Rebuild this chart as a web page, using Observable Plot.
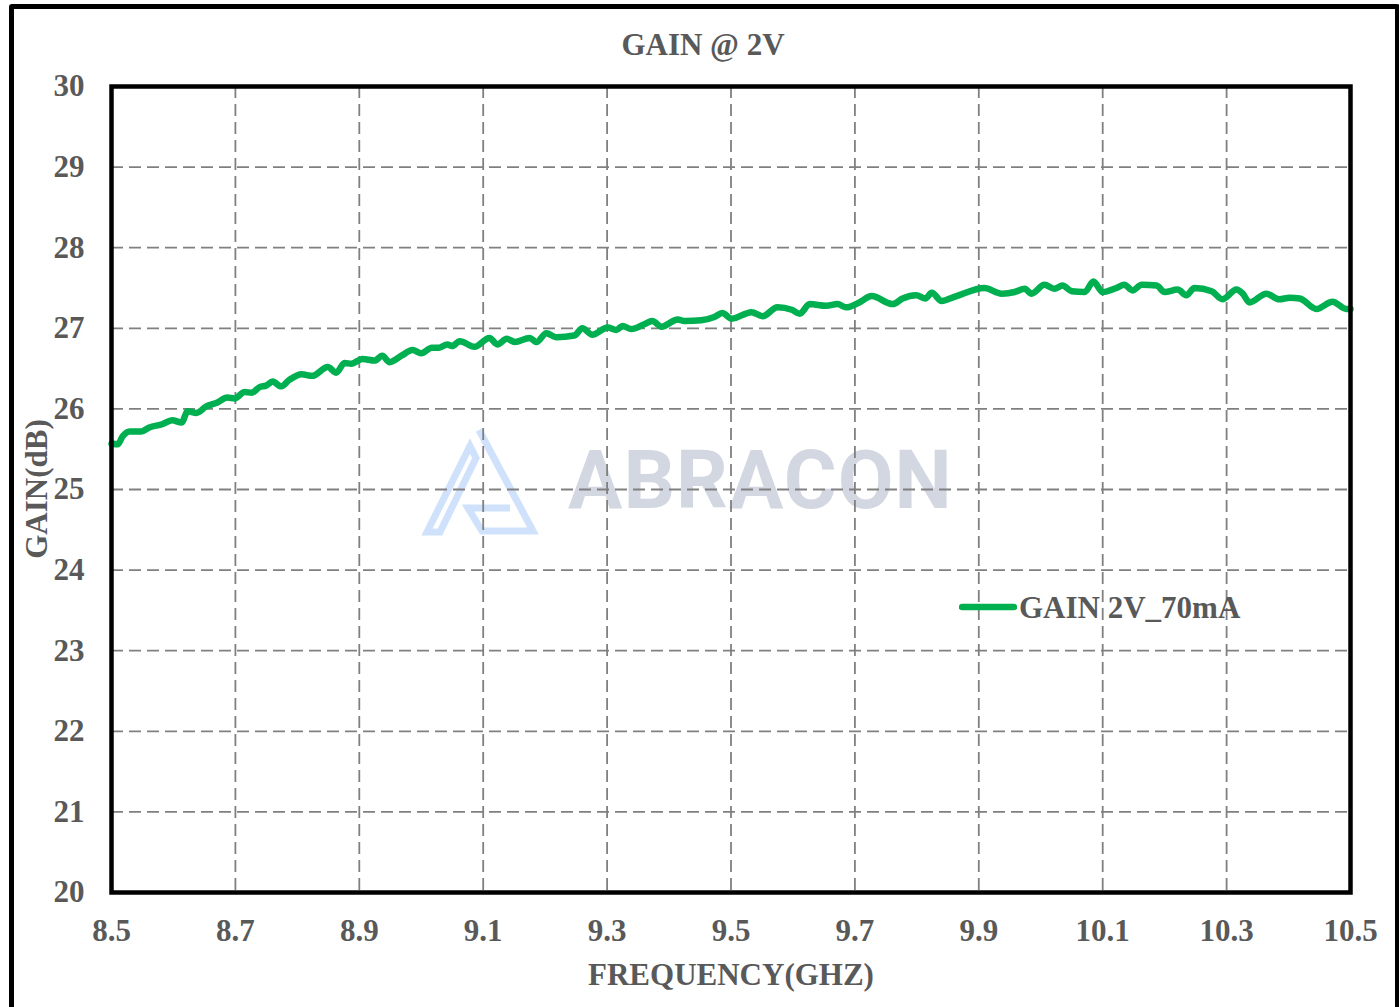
<!DOCTYPE html>
<html>
<head>
<meta charset="utf-8">
<script src="https://cdn.jsdelivr.net/npm/d3@7"></script>
<script src="https://cdn.jsdelivr.net/npm/@observablehq/plot@0.6"></script>
<style>
  html, body { margin: 0; padding: 0; background: #fff; }
  #wrap { position: relative; width: 1399px; height: 1007px; overflow: hidden; background: #fff; }
  .txt { position: absolute; font-family: "Liberation Serif", "Times New Roman", serif; font-weight: bold; font-size: 31px; color: #595959; white-space: nowrap; line-height: 1; }
  #outer { position: absolute; left: 9px; top: 4px; width: 1381px; height: 998px; border: 5px solid #000; border-radius: 3px; }
  #wm { position: absolute; left: 0; top: 0; }
  #chart { position: absolute; left: 0; top: 0; }
</style>
</head>
<body>
<div id="wrap">
  <svg id="wm" width="1399" height="1007">
    <g fill="none" stroke="#cfe1fb" stroke-width="7" stroke-linejoin="miter">
      <polygon points="427,532 470,446 476,458 440,532"></polygon>
      <polyline points="479,430 533,531 482,531 468,508 510,508"></polyline>
    </g>
    <text x="568" y="508" font-family="Roboto, 'DejaVu Sans', sans-serif" font-weight="bold" font-size="81" fill="#d2d7e1" letter-spacing="1">ABRACON</text>
  </svg>
  <div id="chart"></div>
  <div id="outer"></div>
  <div class="txt" id="title" style="left:0; width:1406px; text-align:center; top:29px;">GAIN @ 2V</div>
  <div class="txt" id="xlabel" style="left:0; width:1462px; text-align:center; top:959px;">FREQUENCY(GHZ)</div>
  <div class="txt" id="ylabel" style="left:36px; top:489px; transform: translate(-50%,-50%) rotate(-90deg);">GAIN(dB)</div>
  <div id="legend" style="position:absolute; left:959px; top:590px; height:34px; display:flex; align-items:center;">
    <svg width="58" height="34"><line x1="3" y1="17" x2="55" y2="17" stroke="#00b050" stroke-width="6.5" stroke-linecap="round"></line></svg>
    <span class="txt" style="position:static; margin-left:2px;">GAIN 2V_70mA</span>
  </div>
</div>
<script>
const freq = [8.500,8.510,8.518,8.529,8.548,8.561,8.582,8.598,8.613,8.623,8.637,8.653,8.671,8.687,8.699,8.715,8.726,8.739,8.750,8.760,8.774,8.787,8.807,8.824,8.849,8.863,8.876,8.887,8.905,8.925,8.937,8.949,8.968,8.986,9.000,9.017,9.029,9.042,9.050,9.062,9.086,9.110,9.123,9.138,9.151,9.175,9.186,9.202,9.218,9.247,9.260,9.276,9.301,9.315,9.325,9.339,9.360,9.373,9.388,9.414,9.425,9.452,9.473,9.486,9.501,9.533,9.551,9.575,9.598,9.611,9.627,9.654,9.672,9.686,9.707,9.727,9.761,9.777,9.799,9.814,9.824,9.840,9.864,9.909,9.937,9.958,9.974,9.985,10.006,10.022,10.035,10.050,10.071,10.085,10.100,10.122,10.135,10.148,10.163,10.187,10.200,10.221,10.235,10.248,10.276,10.293,10.316,10.326,10.337,10.364,10.385,10.402,10.418,10.445,10.471,10.493,10.500];
const gain = [25.57,25.56,25.66,25.72,25.72,25.77,25.81,25.86,25.83,25.97,25.95,26.03,26.08,26.14,26.13,26.21,26.20,26.27,26.29,26.34,26.28,26.36,26.43,26.41,26.52,26.45,26.57,26.56,26.62,26.60,26.66,26.58,26.66,26.73,26.69,26.76,26.76,26.80,26.78,26.84,26.77,26.88,26.80,26.87,26.83,26.88,26.83,26.94,26.89,26.91,27.00,26.92,27.01,26.98,27.03,26.99,27.05,27.09,27.02,27.11,27.09,27.10,27.14,27.19,27.12,27.20,27.15,27.26,27.23,27.18,27.30,27.28,27.30,27.26,27.32,27.40,27.30,27.37,27.41,27.37,27.44,27.34,27.40,27.50,27.43,27.45,27.49,27.43,27.54,27.49,27.53,27.46,27.45,27.58,27.45,27.50,27.54,27.47,27.54,27.53,27.45,27.48,27.41,27.50,27.46,27.36,27.48,27.43,27.32,27.43,27.36,27.38,27.37,27.24,27.33,27.24,27.24];
const xTicks = [8.5,8.7,8.9,9.1,9.3,9.5,9.7,9.9,10.1,10.3,10.5];
const yTicks = [20,21,22,23,24,25,26,27,28,29,30];
const seriesName = "GAIN 2V_70mA";

const n = Math.min(freq.length, gain.length);
const data = d3.range(n).map(i => ({f: freq[i], g: gain[i]}));

const chart = Plot.plot({
  width: 1399,
  height: 1007,
  marginLeft: 111,
  marginRight: 49,
  marginTop: 86,
  marginBottom: 115,
  style: {background: "transparent", fontFamily: "'Liberation Serif', 'Times New Roman', serif", fontSize: "31px", fontWeight: "bold", color: "#595959"},
  x: {domain: [8.5, 10.5], label: null},
  y: {domain: [20, 30], label: null},
  marks: [
    Plot.gridX(xTicks, {stroke: "#808080", strokeOpacity: 1, strokeWidth: 1.8, strokeDasharray: "12,6"}),
    Plot.gridY(yTicks, {stroke: "#808080", strokeOpacity: 1, strokeWidth: 1.8, strokeDasharray: "12,6"}),
    Plot.axisX(xTicks, {tickSize: 0, tickPadding: 26, tickFormat: d => d.toFixed(1), fill: "#595959", fontSize: 31, fontWeight: "bold", label: null}),
    Plot.axisY(yTicks, {tickSize: 0, tickPadding: 27, tickFormat: d => String(d), fill: "#595959", fontSize: 31, fontWeight: "bold", label: null}),
    Plot.line(data, {x: "f", y: "g", curve: "monotone-x", stroke: "#00b050", strokeWidth: 6.5, strokeLinejoin: "round", strokeLinecap: "round"}),
    Plot.frame({stroke: "#000", strokeWidth: 4.5})
  ]
});
document.getElementById("chart").appendChild(chart);
</script>
</body>
</html>
